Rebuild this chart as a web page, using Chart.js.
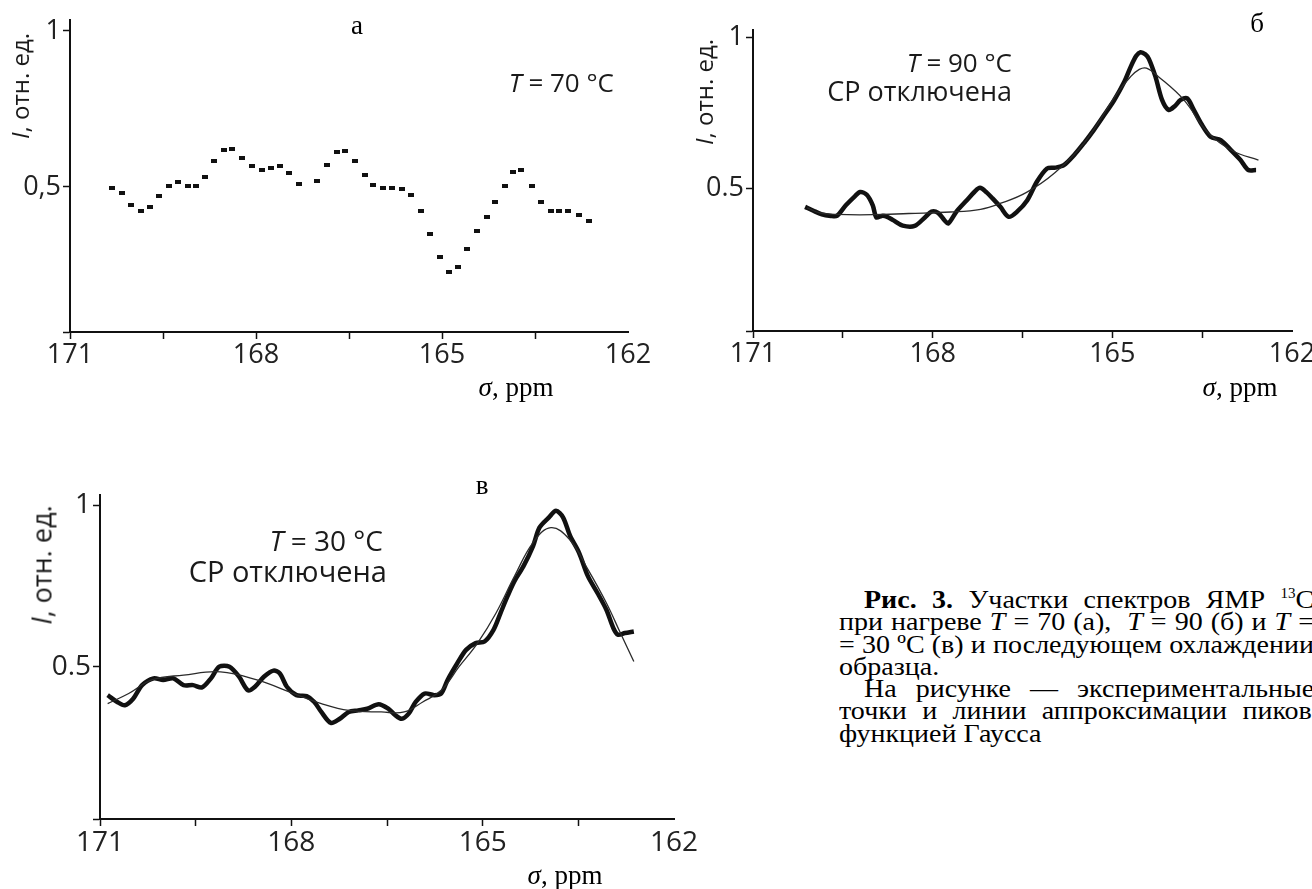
<!DOCTYPE html>
<html lang="ru">
<head>
<meta charset="utf-8">
<title>Рис. 3</title>
<script src="https://cdn.jsdelivr.net/npm/chart.js@4.4.1/dist/chart.umd.min.js"></script>
<style>
  body { margin: 0; background: #fff; }
  #page { position: relative; width: 1312px; height: 889px; overflow: hidden; background: #fff; }
  canvas { position: absolute; }
  .lbl { position: absolute; white-space: nowrap; line-height: 1; color: #1a1a1a; }
  .sans { font-family: "Open Sans", sans-serif; }
  .serif { font-family: "Liberation Serif", "Times New Roman", serif; color: #000; }
  .mid { transform: translate(-50%, -50%); }
  .rgt { transform: translate(-100%, -50%); }
  .ytitle { transform: translate(-50%, -50%) rotate(-90deg); }
  .cap { position: absolute; white-space: nowrap; font: 26px/22px "Liberation Serif", "Times New Roman", serif;
         color: #000; text-align: justify; text-align-last: justify;
         transform: scaleX(1.077); transform-origin: 0 0; }
  .cap.last { text-align: left; text-align-last: left; }
  .cap sup { font-size: 14px; line-height: 0; vertical-align: 10px; }
</style>
</head>
<body>
<div id="page">
  <canvas id="chartA" width="660" height="400" style="left:0;top:0"></canvas>
  <canvas id="chartB" width="680" height="400" style="left:660px;top:0"></canvas>
  <canvas id="chartC" width="720" height="419" style="left:0;top:470px"></canvas>

  <div class="lbl serif mid" style="left:357px;top:25px;font-size:27px">а</div>
  <div class="lbl serif mid" style="left:1257px;top:23px;font-size:27px">б</div>
  <div class="lbl serif mid" style="left:482px;top:485px;font-size:27px">в</div>

  <div class="lbl sans ytitle" style="left:20px;top:86px;font-size:24px"><i>I</i>, отн. ед.</div>
  <div class="lbl sans ytitle" style="left:704px;top:92px;font-size:24px"><i>I</i>, отн. ед.</div>
  <div class="lbl sans ytitle" style="left:41px;top:565px;font-size:27px"><i>I</i>, отн. ед.</div>

  <div class="lbl sans rgt" style="left:614px;top:82px;font-size:26px"><i>T</i> = 70 °C</div>
  <div class="lbl sans rgt" style="left:1012px;top:62px;font-size:26px"><i>T</i> = 90 °C</div>
  <div class="lbl sans rgt" style="left:1012px;top:90px;font-size:27px">СР отключена</div>
  <div class="lbl sans rgt" style="left:383px;top:540px;font-size:28px"><i>T</i> = 30 °C</div>
  <div class="lbl sans rgt" style="left:387px;top:570px;font-size:29px">СР отключена</div>

  <div class="lbl serif mid" style="left:516px;top:387px;font-size:27px"><i>σ</i>, ppm</div>
  <div class="lbl serif mid" style="left:1240px;top:387px;font-size:27px"><i>σ</i>, ppm</div>
  <div class="lbl serif mid" style="left:565px;top:875px;font-size:27px"><i>σ</i>, ppm</div>

  <div class="cap" style="left:864px;top:589px;width:418px"><b>Рис. 3.</b> Участки спектров ЯМР <sup>13</sup>С</div>
  <div class="cap" style="left:839px;top:611px;width:441px">при нагреве <i>T</i> = 70 (а),&nbsp; <i>T</i> = 90 (б) и <i>T</i> =</div>
  <div class="cap" style="left:839px;top:634px;width:441px">= 30 ºС (в) и последующем охлаждении</div>
  <div class="cap last" style="left:839px;top:656px">образца.</div>
  <div class="cap" style="left:864px;top:678px;width:418px">На рисунке — экспериментальные</div>
  <div class="cap" style="left:839px;top:700px;width:439px">точки и линии аппроксимации пиков</div>
  <div class="cap last" style="left:839px;top:723px">функцией Гаусса</div>
</div>

<script>
const xTicks = [171, 169.5, 168, 166.5, 165, 163.5, 162]
const xLabels = [171, 168, 165, 162]
const yTicks = [0.5, 1]
const yLabelsA = ['0,5', '1']
const yLabelsBC = ['0.5', '1']

// а: T = 70 C, experimental points
const ppmA = [170.32, 170.16, 170.02, 169.85, 169.71, 169.56, 169.41, 169.26, 169.10, 168.96,
  168.82, 168.67, 168.51, 168.39, 168.23, 168.06, 167.90, 167.76, 167.62, 167.47,
  167.31, 167.01, 166.86, 166.70, 166.56, 166.40, 166.25, 166.11, 165.95, 165.80,
  165.64, 165.50, 165.34, 165.19, 165.03, 164.89, 164.75, 164.60, 164.44, 164.28,
  164.14, 163.99, 163.85, 163.73, 163.55, 163.40, 163.24, 163.12, 162.96, 162.79, 162.63]
const intensityA = [0.497, 0.481, 0.442, 0.423, 0.436, 0.471, 0.503, 0.516, 0.503, 0.503,
  0.532, 0.583, 0.619, 0.622, 0.593, 0.567, 0.554, 0.561, 0.567, 0.545,
  0.510, 0.519, 0.571, 0.612, 0.615, 0.583, 0.538, 0.506, 0.497, 0.497,
  0.494, 0.474, 0.423, 0.349, 0.276, 0.228, 0.244, 0.301, 0.359, 0.404,
  0.452, 0.503, 0.548, 0.554, 0.503, 0.452, 0.423, 0.423, 0.423, 0.410, 0.391]

// б: T = 90 C
const ppmB = [170.13, 170.0, 169.85, 169.7, 169.6, 169.45, 169.3, 169.21, 169.1, 169.0,
  168.94, 168.85, 168.77, 168.66, 168.5, 168.3, 168.13, 168.02, 167.91, 167.8,
  167.74, 167.6, 167.43, 167.3, 167.21, 167.1, 167.0, 166.87, 166.73, 166.59,
  166.42, 166.26, 166.09, 165.95, 165.81, 165.64, 165.47, 165.31, 165.14, 164.97,
  164.8, 164.69, 164.6, 164.53, 164.45, 164.39, 164.28, 164.17, 164.06, 163.95,
  163.86, 163.75, 163.64, 163.52, 163.36, 163.19, 163.02, 162.86, 162.73, 162.6]
const intensityB = [0.44, 0.428, 0.415, 0.41, 0.41, 0.445, 0.475, 0.489, 0.48, 0.445,
  0.405, 0.41, 0.408, 0.396, 0.378, 0.377, 0.405, 0.424, 0.42, 0.395,
  0.385, 0.425, 0.462, 0.49, 0.503, 0.488, 0.468, 0.44, 0.407, 0.424,
  0.462, 0.523, 0.567, 0.57, 0.578, 0.611, 0.652, 0.694, 0.743, 0.793,
  0.854, 0.905, 0.94, 0.952, 0.945, 0.93, 0.871, 0.794, 0.761, 0.775,
  0.794, 0.799, 0.761, 0.717, 0.672, 0.661, 0.628, 0.595, 0.562, 0.562]
const fitPpmB = [170.1, 169.9, 169.6, 169.0, 168.4, 167.7, 167.2, 166.86, 166.44, 165.96,
  165.47, 164.92, 164.7, 164.55, 164.43, 164.23, 163.81, 163.4, 162.98, 162.56]
const fitB = [0.437, 0.421, 0.415, 0.414, 0.418, 0.423, 0.432, 0.452, 0.487, 0.553,
  0.652, 0.816, 0.87, 0.895, 0.899, 0.871, 0.795, 0.685, 0.624, 0.595]

// в: T = 30 C
const ppmC = [170.88, 170.73, 170.61, 170.48, 170.34, 170.16, 170.01, 169.85, 169.69, 169.54,
  169.40, 169.26, 169.13, 168.97, 168.82, 168.68, 168.57, 168.43, 168.28, 168.18,
  168.07, 167.92, 167.76, 167.64, 167.53, 167.38, 167.24, 167.10, 166.95, 166.81,
  166.63, 166.48, 166.37, 166.27, 166.16, 166.05, 165.91, 165.76, 165.65, 165.55,
  165.40, 165.26, 165.11, 164.97, 164.83, 164.72, 164.61, 164.50, 164.36, 164.21,
  164.11, 163.96, 163.85, 163.74, 163.63, 163.49, 163.35, 163.20, 163.06, 162.95,
  162.88, 162.77, 162.63]
const intensityC = [0.412, 0.391, 0.381, 0.401, 0.443, 0.464, 0.459, 0.464, 0.443, 0.443,
  0.436, 0.464, 0.500, 0.500, 0.469, 0.427, 0.438, 0.469, 0.488, 0.479,
  0.438, 0.412, 0.409, 0.391, 0.360, 0.326, 0.339, 0.360, 0.365, 0.370,
  0.384, 0.370, 0.350, 0.339, 0.355, 0.391, 0.417, 0.412, 0.417, 0.459,
  0.510, 0.552, 0.573, 0.578, 0.614, 0.666, 0.718, 0.765, 0.811, 0.873,
  0.930, 0.962, 0.982, 0.962, 0.905, 0.853, 0.780, 0.728, 0.676, 0.619,
  0.599, 0.604, 0.609]
const fitPpmC = [170.88, 170.55, 170.19, 169.69, 169.11, 168.54, 167.96, 167.53, 167.10, 166.59,
  166.23, 165.94, 165.65, 165.37, 165.08, 164.79, 164.50, 164.21, 163.93, 163.64,
  163.35, 163.06, 162.84, 162.63]
const fitC = [0.386, 0.417, 0.459, 0.474, 0.484, 0.459, 0.417, 0.386, 0.365, 0.360,
  0.360, 0.391, 0.427, 0.500, 0.573, 0.666, 0.780, 0.884, 0.930, 0.894,
  0.801, 0.697, 0.604, 0.516]

Chart.defaults.font.family = 'Open Sans'
Chart.defaults.color = '#222'

const pairs = (xs, ys) => xs.map((x, i) => ({ x: x, y: ys[i] }))

// small flat rectangle, like the printed markers
const dot = document.createElement('canvas')
dot.width = 6
dot.height = 4
const dctx = dot.getContext('2d')
dctx.fillStyle = '#111'
dctx.fillRect(0, 0, 6, 4)

function spectrumLine(xs, ys) {
    return {
        data: pairs(xs, ys), showLine: true, pointRadius: 0,
        borderColor: '#111', borderWidth: 4.5, tension: 0.3, order: 2
    }
}

function fitLine(xs, ys) {
    return {
        data: pairs(xs, ys), showLine: true, pointRadius: 0,
        borderColor: '#2a2a2a', borderWidth: 1.3, tension: 0.4, order: 1
    }
}

function buildChart(id, datasets, opt) {
    const config = {
        type: 'scatter',
        data: { datasets: datasets },
        options: {
            responsive: false,
            animation: false,
            events: [],
            layout: { padding: { top: opt.top, right: opt.right, left: 0, bottom: 0 } },
            plugins: { legend: { display: false }, tooltip: { enabled: false } },
            scales: {
                x: {
                    type: 'linear', reverse: true, min: 162, max: 171,
                    afterBuildTicks: s => { s.ticks = xTicks.map(v => ({ value: v })) },
                    afterFit: s => { s.height = opt.xHeight },
                    ticks: {
                        autoSkip: false, maxRotation: 0, padding: 0,
                        font: { size: opt.font }, color: '#222',
                        callback: v => xLabels.includes(v) ? String(v) : ''
                    },
                    grid: {
                        drawOnChartArea: false, tickLength: 7, tickWidth: 1.5,
                        tickColor: c => (c.tick && c.tick.value === 162) ? 'rgba(0,0,0,0)' : '#111'
                    },
                    border: { color: '#111', width: 2 }
                },
                y: {
                    min: opt.yMin, max: opt.yMax,
                    afterBuildTicks: s => { s.ticks = [opt.yMin].concat(yTicks).map(v => ({ value: v })) },
                    afterFit: s => { s.width = opt.yWidth },
                    ticks: {
                        autoSkip: false, padding: 2,
                        font: { size: opt.font }, color: '#222',
                        callback: v => {
                            const i = yTicks.indexOf(v)
                            return i < 0 ? '' : opt.yLabels[i]
                        }
                    },
                    grid: { drawOnChartArea: false, tickLength: 7, tickWidth: 1.5, tickColor: '#111' },
                    border: { color: '#111', width: 2 }
                }
            }
        }
    }
    return new Chart(document.getElementById(id), config)
}

buildChart('chartA', [{
    data: pairs(ppmA, intensityA), pointStyle: dot, pointRadius: 3
}], { top: 20, right: 32, xHeight: 68, yWidth: 70, yMin: 0.035, yMax: 1.035, font: 27, yLabels: yLabelsA })

buildChart('chartB', [
    spectrumLine(ppmB, intensityB),
    fitLine(fitPpmB, fitB)
], { top: 30, right: 48, xHeight: 69, yWidth: 93, yMin: 0.029, yMax: 1.0255, font: 27, yLabels: yLabelsBC })

buildChart('chartC', [
    spectrumLine(ppmC, intensityC),
    fitLine(fitPpmC, fitC)
], { top: 25, right: 46, xHeight: 70, yWidth: 100, yMin: 0.029, yMax: 1.031, font: 28, yLabels: yLabelsBC })
</script>
</body>
</html>
